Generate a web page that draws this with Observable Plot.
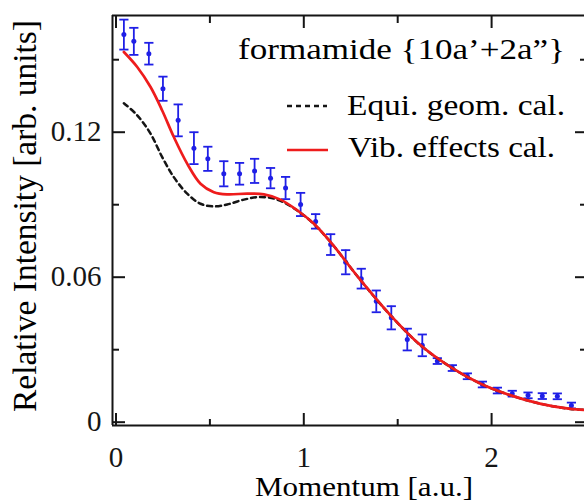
<!DOCTYPE html>
<html><head><meta charset="utf-8">
<script src="https://cdn.jsdelivr.net/npm/d3@7"></script>
<script src="https://cdn.jsdelivr.net/npm/@observablehq/plot@0.6"></script>
<style>body{margin:0;background:#fff}</style>
</head><body><div id="chart"></div>
<script>
// Experimental data (momentum [a.u.], relative intensity, error)
const momentum  = [0.042,0.095,0.175,0.25,0.331,0.415,0.489,0.574,0.658,0.738,0.823,0.903,0.983,1.063,1.143,1.223,1.306,1.386,1.466,1.551,1.631,1.711,1.791,1.871,1.951,2.031,2.11,2.194,2.27,2.35,2.425];
const intensity = [0.1604,0.1576,0.1525,0.138,0.1249,0.1134,0.109,0.1028,0.1028,0.104,0.101,0.0969,0.0901,0.0831,0.0735,0.0662,0.0594,0.05,0.0432,0.0342,0.0318,0.0253,0.0224,0.019,0.0156,0.0131,0.0118,0.0111,0.0108,0.0107,0.0069];
const errors    = [0.0062,0.0056,0.0045,0.005,0.0066,0.0066,0.005,0.0052,0.0045,0.005,0.0042,0.0046,0.0048,0.003,0.0043,0.005,0.0041,0.0045,0.0048,0.0045,0.0045,0.0012,0.0012,0.0012,0.0012,0.0012,0.0012,0.0012,0.0012,0.0012,0.0012];

// Vib. effects calculation
const vibX = [0.042,0.113,0.184,0.246,0.308,0.379,0.45,0.521,0.592,0.699,0.788,0.876,0.965,1.054,1.143,1.303,1.462,1.622,1.782,1.942,2.102,2.262,2.42,2.49];
const vibY = [0.1532,0.147,0.1387,0.129,0.118,0.107,0.0987,0.0952,0.0943,0.0946,0.0943,0.0921,0.0877,0.0821,0.0745,0.0587,0.0442,0.0318,0.0228,0.0159,0.0111,0.0076,0.0055,0.0051];

// Equi. geom. calculation
const equiX = [0.042,0.113,0.184,0.246,0.308,0.379,0.45,0.521,0.592,0.681,0.77,0.859,0.965,1.054,1.143,1.303,1.462,1.622,1.782,1.942,2.102,2.262,2.42,2.49];
const equiY = [0.132,0.127,0.1194,0.1097,0.1014,0.0946,0.0904,0.0893,0.0901,0.0921,0.0932,0.0921,0.0876,0.082,0.0745,0.0587,0.0442,0.0318,0.0228,0.0159,0.0111,0.0076,0.0055,0.0051];

const xTicksMajor = [0, 1, 2];
const xTickLabels = ["0", "1", "2"];
const xTicksMinor = [0.5, 1.5];
const yTicksMajor = [0, 0.06, 0.12];
const yTickLabels = ["0", "0.06", "0.12"];
const yTicksMinor = [0.03, 0.09, 0.15];
const xDomain = [-0.0186, 2.5];
const yDomain = [-0.00137, 0.1683];

const titleText = "formamide {10a\u2019+2a\u201D}";
const seriesNames = ["Equi. geom. cal.", "Vib. effects cal."];
const xLabel = "Momentum [a.u.]";
const yLabel = "Relative Intensity [arb. units]";

const obs = momentum.map((m, i) => ({m, v: intensity[i], lo: intensity[i] - errors[i], hi: intensity[i] + errors[i]}));
const vib = vibX.map((x, i) => ({x, y: vibY[i]}));
const equi = equiX.map((x, i) => ({x, y: equiY[i]}));

const blue = "#1f1fe6", red = "#ee1c1c", ink = "#151515";
const W = 584, H = 504, mL = 112, mT = 15, mB = 79, mR = 0;
const innerW = W - mL - mR, innerH = H - mT - mB;
const cap = {draw(ctx) { ctx.moveTo(-4.6, 0); ctx.lineTo(4.6, 0); }};
const serif = "'Liberation Serif', 'Times New Roman', serif";

const plot = Plot.plot({
  width: W, height: H,
  marginLeft: mL, marginTop: mT, marginBottom: mB, marginRight: mR,
  style: {fontFamily: serif, fontSize: "29px", color: ink, background: "#fff"},
  x: {domain: xDomain, range: [mL, 585]},
  y: {domain: yDomain},
  marks: [
    Plot.ruleX(obs, {x: "m", y1: "lo", y2: "hi", stroke: blue, strokeWidth: 1.8}),
    Plot.dot(obs, {x: "m", y: "lo", symbol: cap, r: 4, fill: "none", stroke: blue, strokeWidth: 1.8}),
    Plot.dot(obs, {x: "m", y: "hi", symbol: cap, r: 4, fill: "none", stroke: blue, strokeWidth: 1.8}),
    Plot.dot(obs, {x: "m", y: "v", r: 2.5, fill: blue, stroke: "none"}),
    Plot.line(equi, {x: "x", y: "y", stroke: ink, strokeWidth: 2.5, strokeDasharray: "5,4", curve: "catmull-rom"}),
    Plot.line(vib, {x: "x", y: "y", stroke: red, strokeWidth: 2.7, curve: "catmull-rom"}),
    // frame (left, bottom, top)
    Plot.ruleX([xDomain[0]], {stroke: ink, strokeWidth: 2}),
    Plot.ruleY([yDomain[0]], {stroke: ink, strokeWidth: 2}),
    Plot.ruleY([yDomain[1]], {stroke: ink, strokeWidth: 2}),
    // inward ticks
    Plot.tickY(yTicksMajor, {y: d => d, insetRight: innerW - 13, stroke: ink, strokeWidth: 2}),
    Plot.tickY(yTicksMinor, {y: d => d, insetRight: innerW - 7, stroke: ink, strokeWidth: 2}),
    Plot.tickY(yTicksMajor, {y: d => d, insetLeft: innerW - 9, stroke: ink, strokeWidth: 2}),
    Plot.tickY(yTicksMinor, {y: d => d, insetLeft: innerW - 4, stroke: ink, strokeWidth: 2}),
    Plot.tickX(xTicksMajor, {x: d => d, insetTop: innerH - 12, stroke: ink, strokeWidth: 2}),
    Plot.tickX(xTicksMinor, {x: d => d, insetTop: innerH - 6, stroke: ink, strokeWidth: 2}),
    Plot.tickX(xTicksMajor, {x: d => d, insetBottom: innerH - 13, stroke: ink, strokeWidth: 2}),
    Plot.tickX(xTicksMinor, {x: d => d, insetBottom: innerH - 8, stroke: ink, strokeWidth: 2}),
    Plot.axisY(yTicksMajor, {tickSize: 0, tickPadding: 11, tickFormat: d => yTickLabels[yTicksMajor.indexOf(d)], label: null}),
    Plot.axisX(xTicksMajor, {tickSize: 0, tickPadding: 21, tickFormat: d => xTickLabels[xTicksMajor.indexOf(d)], label: null})
  ]
});

const svg = d3.select(plot);
function addText(txt, x, y, size, len, rotate) {
  const t = svg.append("text")
    .attr("font-family", serif)
    .attr("font-size", size).attr("fill", "#000")
    .attr("textLength", len).attr("lengthAdjust", "spacingAndGlyphs")
    .text(txt);
  if (rotate) t.attr("text-anchor", "middle").attr("transform", `translate(${x},${y}) rotate(-90)`);
  else t.attr("text-anchor", "start").attr("x", x).attr("y", y);
  return t;
}
addText(yLabel, 36, 216, 33, 392, true);
addText(xLabel, 255, 496, 28, 218, false);
addText(titleText, 238, 59, 30, 327, false);
addText(seriesNames[0], 347, 115, 30, 218, false);
addText(seriesNames[1], 348, 157, 30, 207, false);
svg.append("line").attr("x1", 287).attr("x2", 327).attr("y1", 106).attr("y2", 106)
  .attr("stroke", ink).attr("stroke-width", 2.5).attr("stroke-dasharray", "5,4");
svg.append("line").attr("x1", 287).attr("x2", 328).attr("y1", 150).attr("y2", 150)
  .attr("stroke", red).attr("stroke-width", 2.7);

document.getElementById("chart").append(plot);
</script>
</body></html>
